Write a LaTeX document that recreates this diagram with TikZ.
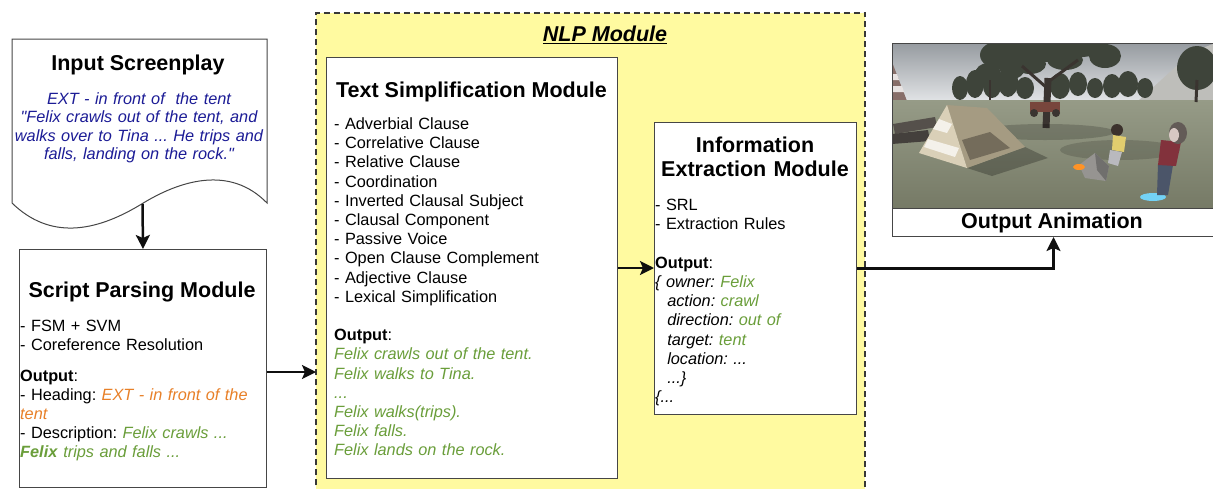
\documentclass[tikz,border=0pt]{standalone}
\usepackage{fontspec}
\setmainfont{Liberation Sans}[Ligatures=TeXOff]
\usetikzlibrary{arrows.meta}
\frenchspacing
\definecolor{txtblue}{RGB}{28,28,150}
\definecolor{txtgreen}{RGB}{106,158,58}
\definecolor{txtorange}{RGB}{232,128,40}
\definecolor{nlpyellow}{RGB}{255,250,160}
\definecolor{edgegray}{RGB}{70,70,70}
\definecolor{dashgray}{RGB}{55,55,55}
\definecolor{skytop}{RGB}{150,155,160}
\definecolor{skybot}{RGB}{228,230,232}
\definecolor{grasstop}{RGB}{150,155,135}
\definecolor{grassbot}{RGB}{118,122,102}
\definecolor{treedark}{RGB}{62,68,58}
\definecolor{trunk}{RGB}{58,52,48}
\definecolor{mtgray}{RGB}{190,190,186}
\definecolor{pyrbrown}{RGB}{135,110,105}
\definecolor{logc}{RGB}{85,80,75}
\definecolor{tentlight}{RGB}{218,208,184}
\definecolor{tentdark}{RGB}{165,155,130}
\definecolor{rockgray}{RGB}{150,148,145}
\definecolor{carred}{RGB}{120,70,60}
\definecolor{shirtyellow}{RGB}{225,205,110}
\definecolor{pantsgray}{RGB}{185,185,190}
\definecolor{tinared}{RGB}{130,50,60}
\definecolor{tinapants}{RGB}{75,85,105}
\definecolor{hairc}{RGB}{60,50,45}
\definecolor{skin}{RGB}{215,200,195}
\newcommand\mybody{\fontsize{16.3}{19.2}\selectfont}
\newcommand\mytitle{\fontsize{21.5}{24.5}\selectfont\bfseries}
\newcommand\grn[1]{\textcolor{txtgreen}{\textit{#1}}}
\begin{document}
\begin{tikzpicture}[x=1pt,y=-1pt,
  box/.style={draw=edgegray, line width=1pt, fill=white, rectangle, inner sep=0pt, anchor=north west},
  txt/.style={inner sep=0pt, align=left, font=\mybody, anchor=base west},
  ttl/.style={inner sep=0pt, align=center, font=\mytitle, anchor=base},
  arr/.style={line width=2.5pt, draw={rgb,255:red,15;green,15;blue,15}, -{Stealth[length=14pt,width=14pt,inset=3pt]}}]
\useasboundingbox (0,0) rectangle (1213,488);

% ---------- Input screenplay (document shape)
\draw[draw=edgegray, line width=1pt, fill=white]
  (12,39) -- (267,39) -- (267,203)
  .. controls (230,165) and (180,180) .. (140,205)
  .. controls (95,232) and (50,240) .. (12,203) -- cycle;
\coordinate (docb) at (142.5,204);
\node[ttl] (isttl) at (138,70.7) {Input Screenplay};
\node[inner sep=0pt, align=center, anchor=base, text width=262pt,
      font=\fontsize{16.3}{18.6}\selectfont\itshape, text=txtblue] (istxt) at (139,104)
  {EXT - in front of\ \ the tent\\
   "Felix crawls out of the tent, and\\
   walks over to Tina ... He trips and\\
   falls, landing on the rock."};

% ---------- Script parsing module
\node[box, minimum width=247pt, minimum height=238pt] (spm) at (19,249) {};
\node[ttl] (spmttl) at (142,297) {Script Parsing Module};
\node[txt, text width=240pt] (spmlist) at (20,331) {- FSM + SVM\\- Coreference Resolution};
\node[txt, text width=244pt] (spmout) at (20,381)
  {\textbf{Output}:\\
   - Heading: \textcolor{txtorange}{\textit{EXT - in front of the}}\\
   \textcolor{txtorange}{\textit{tent}}\\
   - Description: \grn{Felix crawls ...}\\
   \textcolor{txtgreen}{\textbf{\textit{Felix}}}\grn{ trips and falls ...}};

% ---------- NLP module container
\node[rectangle, fill=nlpyellow, inner sep=0pt, anchor=north west,
      minimum width=549pt, minimum height=482pt] (nlp) at (316,13) {};
\draw[dashgray, line width=2pt, dash pattern=on 6pt off 4pt]
  (nlp.south west) -- (nlp.north west) -- (nlp.north east) -- (nlp.south east);
\node[ttl] (nlpttl) at (605,41.5) {\underline{\textit{NLP Module}}};

% ---------- Text simplification module
\node[box, minimum width=291pt, minimum height=421pt] (ts) at (326,57) {};
\node[ttl] (tsttl) at (471.5,97) {Text Simplification Module};
\node[txt, text width=280pt] (tslist) at (334,129.5)
  {- Adverbial Clause\\
   - Correlative Clause\\
   - Relative Clause\\
   - Coordination\\
   - Inverted Clausal Subject\\
   - Clausal Component\\
   - Passive Voice\\
   - Open Clause Complement\\
   - Adjective Clause\\
   - Lexical Simplification};
\node[txt, text width=280pt] (tsout) at (334,340.7)
  {\textbf{Output}:\\
   \grn{Felix crawls out of the tent.}\\
   \grn{Felix walks to Tina.}\\
   \grn{...}\\
   \grn{Felix walks(trips).}\\
   \grn{Felix falls.}\\
   \grn{Felix lands on the rock.}};

% ---------- Information extraction module
\node[box, minimum width=202pt, minimum height=292pt] (ie) at (654,122) {};
\node[ttl, text width=200pt] (iettl) at (755,152) {Information\\Extraction Module};
\node[txt, text width=198pt] (ielist) at (655,210) {- SRL\\- Extraction Rules};
\node[txt, text width=198pt] (ieout) at (655,268.3)
  {\textbf{Output}:\\
   \textit{\{ owner: }\grn{Felix}\\
   \hphantom{\textit{\{ }}\textit{action: }\grn{crawl}\\
   \hphantom{\textit{\{ }}\textit{direction: }\grn{out of}\\
   \hphantom{\textit{\{ }}\textit{target: }\grn{tent}\\
   \hphantom{\textit{\{ }}\textit{location: ...}\\
   \hphantom{\textit{\{ }}\textit{...\}}\\
   \textit{\{...}};

% ---------- Output animation
\node[box, minimum width=322pt, minimum height=165pt] (oimg) at (892,43) {};
\begin{scope}
\clip (892,43) rectangle (1213,208);
\shade[top color=skytop, bottom color=skybot] (892,43) rectangle (1213,103);
\fill[mtgray] (1138,101) -- (1192,52) -- (1213,44) -- (1213,101) -- cycle;
\fill[pyrbrown] (892,62) -- (907,101) -- (892,101) -- cycle;
\fill[white!80!pyrbrown] (892,74) -- (897,74) -- (899,80) -- (892,80) -- cycle;
\fill[white!80!pyrbrown] (892,86) -- (902,86) -- (904,92) -- (892,92) -- cycle;
% horizon trees
\foreach \tx/\ty/\rx/\ry in {960/88/8/12, 975/84/9/14, 992/86/9/12, 1008/82/10/15, 1025/88/9/11,
  1060/86/10/13, 1078/84/9/12, 1095/88/8/10, 1112/86/9/12, 1128/84/10/13, 1145/88/8/10}
  \fill[treedark] (\tx,\ty) ellipse ({\rx} and {\ry});
\shade[top color=grasstop, bottom color=grassbot] (892,100) rectangle (1213,208);
% big tree canopy
\foreach \tx/\ty/\rx/\ry in {1000/55/20/14, 1022/48/24/14, 1050/46/30/16, 1080/44/28/13,
  1105/56/16/12, 1065/60/18/10, 1030/64/16/10, 988/74/13/11, 1012/70/12/9}
  \fill[treedark] (\tx,\ty) ellipse ({\rx} and {\ry});
\draw[trunk, line width=7pt] (1046,128) -- (1048,78);
\draw[trunk, line width=3pt] (1047,88) -- (1022,66);
\draw[trunk, line width=3pt] (1048,82) -- (1078,60);
\draw[trunk, line width=2pt] (990,100) -- (990,80);
% right tree
\fill[treedark] (1197,68) ellipse (20 and 22);
\draw[trunk, line width=3pt] (1196,102) -- (1197,80);
% shadows on grass
\fill[black, opacity=0.18] (1045,132) ellipse (70 and 8);
\fill[black, opacity=0.15] (1120,150) ellipse (60 and 10);
% vehicle
\fill[carred] (1030,102) rectangle (1060,112);
\fill[trunk] (1034,113) circle (4);
\fill[trunk] (1056,113) circle (4);
% logs
\fill[logc] (893,124) -- (935,117) -- (937,127) -- (895,134) -- cycle;
\fill[logc!80!black] (892,134) -- (928,130) -- (930,141) -- (892,144) -- cycle;
% tent
\fill[black, opacity=0.25] (967,168) -- (1025,147) -- (1048,158) -- (992,176) -- cycle;
\fill[tentdark] (947,105) -- (987,108) -- (1025,147) -- (967,168) -- cycle;
\fill[tentlight] (947,105) -- (919,153) -- (967,168) -- cycle;
\fill[white!70!tentlight] (939,119) -- (952,124) -- (947,133) -- (933,129) -- cycle;
\fill[white!70!tentlight] (928,139) -- (959,148) -- (955,157) -- (924,147) -- cycle;
\fill[tentdark!70!black] (962,140) -- (990,132) -- (1010,148) -- (970,160) -- cycle;
% rock
\fill[rockgray] (1079,165) -- (1095,153) -- (1109,166) -- (1106,181) -- (1085,178) -- cycle;
\fill[rockgray!75!black] (1095,153) -- (1109,166) -- (1106,181) -- (1097,170) -- cycle;
\fill[orange!85!white] (1079,167) ellipse (6 and 3);
% Felix
\fill[hairc] (1117,130) circle (6);
\fill[shirtyellow] (1113,135) -- (1126,137) -- (1124,152) -- (1112,150) -- cycle;
\fill[pantsgray] (1110,150) -- (1122,152) -- (1118,166) -- (1108,163) -- cycle;
% Tina
\fill[cyan!55!white] (1153,197) ellipse (13 and 4);
\fill[tinapants] (1158,164) -- (1173,165) -- (1168,195) -- (1157,195) -- cycle;
\fill[tinared] (1161,140) -- (1181,142) -- (1176,166) -- (1158,165) -- cycle;
\fill[hairc!80!white] (1178,133) ellipse (9 and 11);
\fill[skin] (1174,135) ellipse (5 and 7);
\end{scope}
\draw[edgegray, line width=1pt] (oimg.south west) rectangle (oimg.north east);
\node[box, minimum width=322pt, minimum height=28pt] (oa) at (892,208) {};
\node[ttl] (oattl) at (1052,228.3) {Output Animation};

% ---------- connectors
\draw[arr] (docb) -- (spm.north);
\draw[arr] ([yshift=-3.5pt]spm.east) -- ([yshift=-3.5pt]spm.east -| nlp.west);
\draw[arr] (ts.east) -- (ts.east -| ie.west);
\draw[arr] (ie.east) -| (oa.south);
\end{tikzpicture}
\end{document}
